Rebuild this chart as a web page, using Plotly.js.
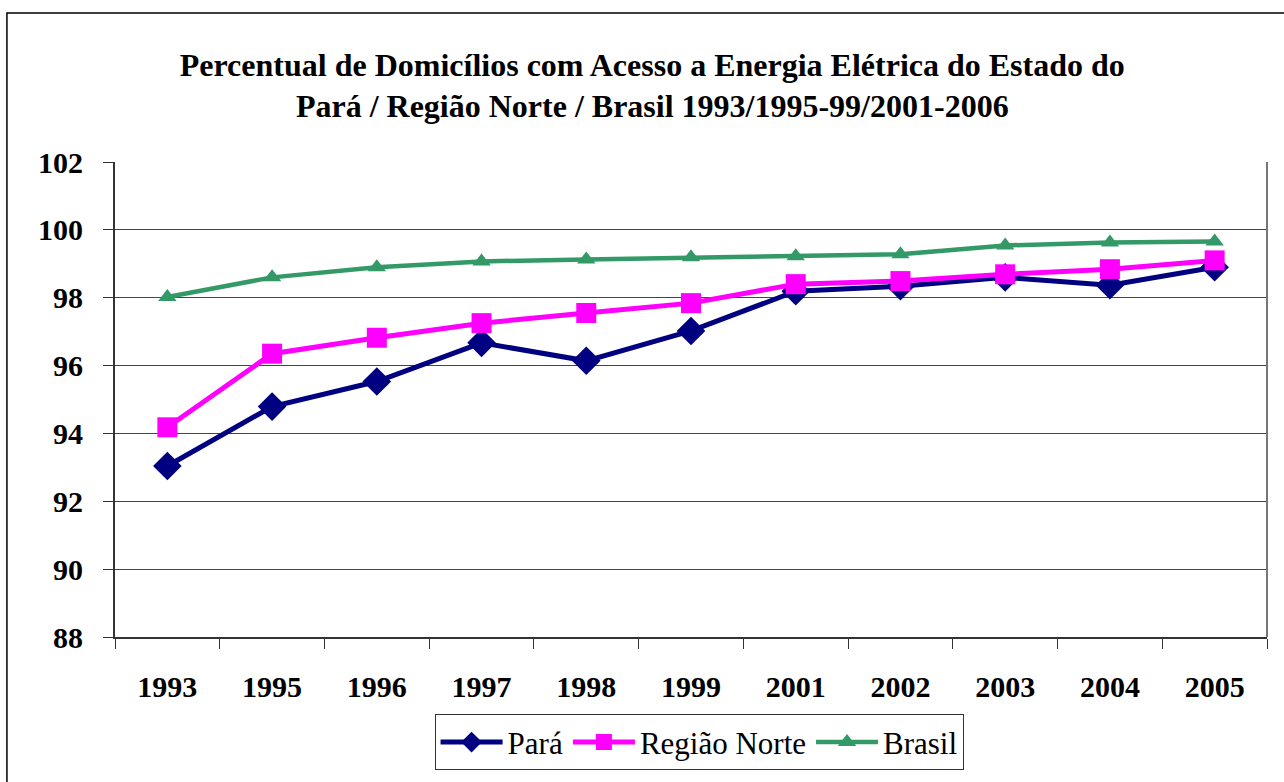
<!DOCTYPE html>
<html>
<head>
<meta charset="utf-8">
<script src="https://cdn.plot.ly/plotly-3.0.1.min.js"></script>
<style>html,body{margin:0;padding:0;background:#fff;}#chart{width:1284px;height:782px;}</style>
</head>
<body>
<div id="chart"></div>
<script>
const years = ["1993","1995","1996","1997","1998","1999","2001","2002","2003","2004","2005"];
const para = [93.04, 94.79, 95.53, 96.67, 96.14, 97.02, 98.19, 98.34, 98.60, 98.37, 98.90];
const regiaoNorte = [94.18, 96.35, 96.82, 97.25, 97.55, 97.84, 98.40, 98.49, 98.69, 98.84, 99.10];
const brasil = [98.02, 98.60, 98.90, 99.07, 99.13, 99.19, 99.22, 99.28, 99.54, 99.63, 99.66];
const yTicks = [88, 90, 92, 94, 96, 98, 100, 102];

const serif = "Liberation Serif";

const traces = [
  {x: years, y: para, name: "Pará", type: "scatter", mode: "lines+markers",
   line: {color: "#000080", width: 5}, marker: {symbol: "diamond", size: 22, color: "#000080"}},
  {x: years, y: regiaoNorte, name: "Região Norte", type: "scatter", mode: "lines+markers",
   line: {color: "#FF00FF", width: 5}, marker: {symbol: "square", size: 20, color: "#FF00FF"}},
  {x: years, y: brasil, name: "Brasil", type: "scatter", mode: "lines+markers",
   line: {color: "#339966", width: 4.5}, marker: {symbol: "triangle-up", size: 16, color: "#339966"}}
];

const layout = {
  width: 1284, height: 782,
  margin: {l: 115, r: 17, t: 162, b: 142},
  paper_bgcolor: "#ffffff", plot_bgcolor: "#ffffff",
  font: {family: serif, color: "#000"},
  title: {
    text: "<b>Percentual de Domicílios com Acesso a Energia Elétrica do Estado do<br>Pará / Região Norte / Brasil 1993/1995-99/2001-2006</b>",
    font: {family: serif, size: 32, color: "#000"},
    x: 0.508, xanchor: "center", y: 0.903, yanchor: "top"
  },
  xaxis: {
    type: "category", range: [-0.5, 10.5], tickson: "boundaries", ticks: "outside", ticklen: 10, tickcolor: "#333",
    showline: true, linecolor: "#333", linewidth: 2, showgrid: false, zeroline: false,
    tickfont: {family: serif, size: 30, color: "#000", weight: "bold"},
    ticklabelstandoff: 22, fixedrange: true
  },
  yaxis: {
    range: [88, 102], tickvals: yTicks, ticktext: yTicks.map(String),
    ticks: "outside", ticklen: 10, tickcolor: "#333",
    showline: true, linecolor: "#333", linewidth: 2,
    showgrid: true, gridcolor: "#444", gridwidth: 1, zeroline: false,
    tickfont: {family: serif, size: 30, color: "#000", weight: "bold"},
    ticklabelstandoff: 14, fixedrange: true
  },
  showlegend: true,
  legend: {
    orientation: "h", x: 0.507, xanchor: "center", y: -0.163, yanchor: "top",
    bordercolor: "#333", borderwidth: 1, bgcolor: "#fff",
    font: {family: serif, size: 31, color: "#000"}, itemwidth: 62
  },
  shapes: [
    {type: "line", xref: "paper", yref: "paper", x0: 1, x1: 1, y0: 0, y1: 1, line: {color: "#777", width: 2}},
    {type: "rect", xref: "paper", yref: "paper", x0: -0.0938, x1: 1.02, y0: -0.33, y1: 1.3138, line: {color: "#000", width: 1.5}, fillcolor: "rgba(0,0,0,0)", layer: "below"}
  ]
};

Plotly.newPlot("chart", traces, layout, {displayModeBar: false, staticPlot: true});
</script>
</body>
</html>
